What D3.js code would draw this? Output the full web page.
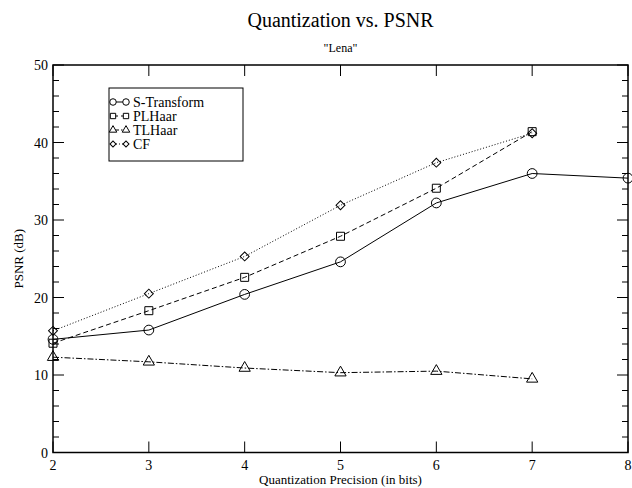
<!DOCTYPE html>
<html>
<head>
<meta charset="utf-8">
<script src="https://cdn.jsdelivr.net/npm/d3@7"></script>
<style>
  body { margin: 0; background: #fff; }
</style>
</head>
<body>
<svg id="chart" width="632" height="488"></svg>
<script>
const bits = [2, 3, 4, 5, 6, 7, 8]
const sTransform = [14.6, 15.8, 20.4, 24.6, 32.2, 36.0, 35.4]
const plHaar = [14.1, 18.3, 22.6, 27.9, 34.1, 41.4]
const tlHaar = [12.3, 11.7, 10.9, 10.3, 10.5, 9.5]
const cf = [15.7, 20.5, 25.3, 31.9, 37.4, 41.2]
const xTicks = [2, 3, 4, 5, 6, 7, 8]
const yTicks = [0, 10, 20, 30, 40, 50]
const yMinor = d3.range(0, 51, 2)

const serif = "'Liberation Serif', 'Times New Roman', Times, serif"

const series = [
  { name: "S-Transform", values: sTransform, dash: null, symbol: d3.symbolCircle, size: 75, rot: 0 },
  { name: "PLHaar", values: plHaar, dash: "5,3", symbol: d3.symbolSquare, size: 64, rot: 0 },
  { name: "TLHaar", values: tlHaar, dash: "6,2,1.5,2", symbol: d3.symbolTriangle, size: 55, rot: 0 },
  { name: "CF", values: cf, dash: "1,2", symbol: d3.symbolSquare, size: 40, rot: 45 }
]

const svg = d3.select("#chart").attr("font-family", serif)
const padL = 53, padR = 628, padT = 65, padB = 452.5

const x = d3.scaleLinear().domain([2, 8]).range([padL, padR])
const y = d3.scaleLinear().domain([0, 50]).range([padB, padT])

// title
svg.append("text")
  .attr("x", (padL + padR) / 2).attr("y", 27)
  .attr("text-anchor", "middle")
  .attr("font-size", 20)
  .text("Quantization vs. PSNR")
svg.append("text")
  .attr("x", (padL + padR) / 2).attr("y", 52)
  .attr("text-anchor", "middle")
  .attr("font-size", 12)
  .text("\"Lena\"")

// ticks, all pointing into the frame
const tickG = svg.append("g").attr("stroke", "#000").attr("stroke-width", 1)
xTicks.forEach(function(t) {
  tickG.append("line").attr("x1", x(t)).attr("x2", x(t)).attr("y1", padB).attr("y2", padB - 11)
  tickG.append("line").attr("x1", x(t)).attr("x2", x(t)).attr("y1", padT).attr("y2", padT + 11)
})
yMinor.forEach(function(t) {
  const len = t % 10 === 0 ? 11 : 6
  tickG.append("line").attr("x1", padL).attr("x2", padL + len).attr("y1", y(t)).attr("y2", y(t))
  tickG.append("line").attr("x1", padR).attr("x2", padR - len).attr("y1", y(t)).attr("y2", y(t))
})

// frame
svg.append("rect")
  .attr("x", padL).attr("y", padT)
  .attr("width", padR - padL).attr("height", padB - padT)
  .attr("fill", "none").attr("stroke", "#000").attr("stroke-width", 1.5)

// tick labels
svg.selectAll(".xlab").data(xTicks).enter().append("text")
  .attr("class", "xlab")
  .attr("x", d => x(d)).attr("y", padB + 17)
  .attr("text-anchor", "middle")
  .attr("font-size", 14)
  .text(d => d)
svg.selectAll(".ylab").data(yTicks).enter().append("text")
  .attr("class", "ylab")
  .attr("x", padL - 5).attr("y", d => y(d) + 5)
  .attr("text-anchor", "end")
  .attr("font-size", 14)
  .text(d => d)

// axis titles
svg.append("text")
  .attr("x", (padL + padR) / 2).attr("y", padB + 31)
  .attr("text-anchor", "middle")
  .attr("font-size", 13)
  .text("Quantization Precision (in bits)")
svg.append("text")
  .attr("transform", "translate(23," + ((padT + padB) / 2) + ") rotate(-90)")
  .attr("text-anchor", "middle")
  .attr("font-size", 13)
  .text("PSNR (dB)")

// lines + markers
const line = d3.line().x(d => x(d[0])).y(d => y(d[1]))
series.forEach(function(s) {
  const pts = s.values.map((v, i) => [bits[i], v])
  svg.append("path")
    .datum(pts)
    .attr("d", line)
    .attr("fill", "none")
    .attr("stroke", "#000")
    .attr("stroke-width", 1)
    .attr("stroke-dasharray", s.dash)
  svg.selectAll(null).data(pts).enter().append("path")
    .attr("transform", d => "translate(" + x(d[0]) + "," + y(d[1]) + ") rotate(" + s.rot + ")")
    .attr("d", d3.symbol().type(s.symbol).size(s.size))
    .attr("fill", "none")
    .attr("stroke", "#000")
    .attr("stroke-width", 1)
})

// legend
const legend = svg.append("g")
legend.append("rect")
  .attr("x", 109).attr("y", 88).attr("width", 134).attr("height", 73)
  .attr("fill", "#fff").attr("stroke", "#000").attr("stroke-width", 1)
series.forEach(function(s, i) {
  const ly = 102 + i * 14
  legend.append("line")
    .attr("x1", 113).attr("x2", 126).attr("y1", ly).attr("y2", ly)
    .attr("stroke", "#000").attr("stroke-width", 1)
    .attr("stroke-dasharray", s.dash)
  ;[113, 126].forEach(function(sx) {
    legend.append("path")
      .attr("transform", "translate(" + sx + "," + ly + ") rotate(" + s.rot + ")")
      .attr("d", d3.symbol().type(s.symbol).size(s.size * 0.45))
      .attr("fill", "#fff").attr("stroke", "#000").attr("stroke-width", 1)
  })
  legend.append("text")
    .attr("x", 133).attr("y", ly + 5)
    .attr("font-size", 14)
    .text(s.name)
})
</script>
</body>
</html>
